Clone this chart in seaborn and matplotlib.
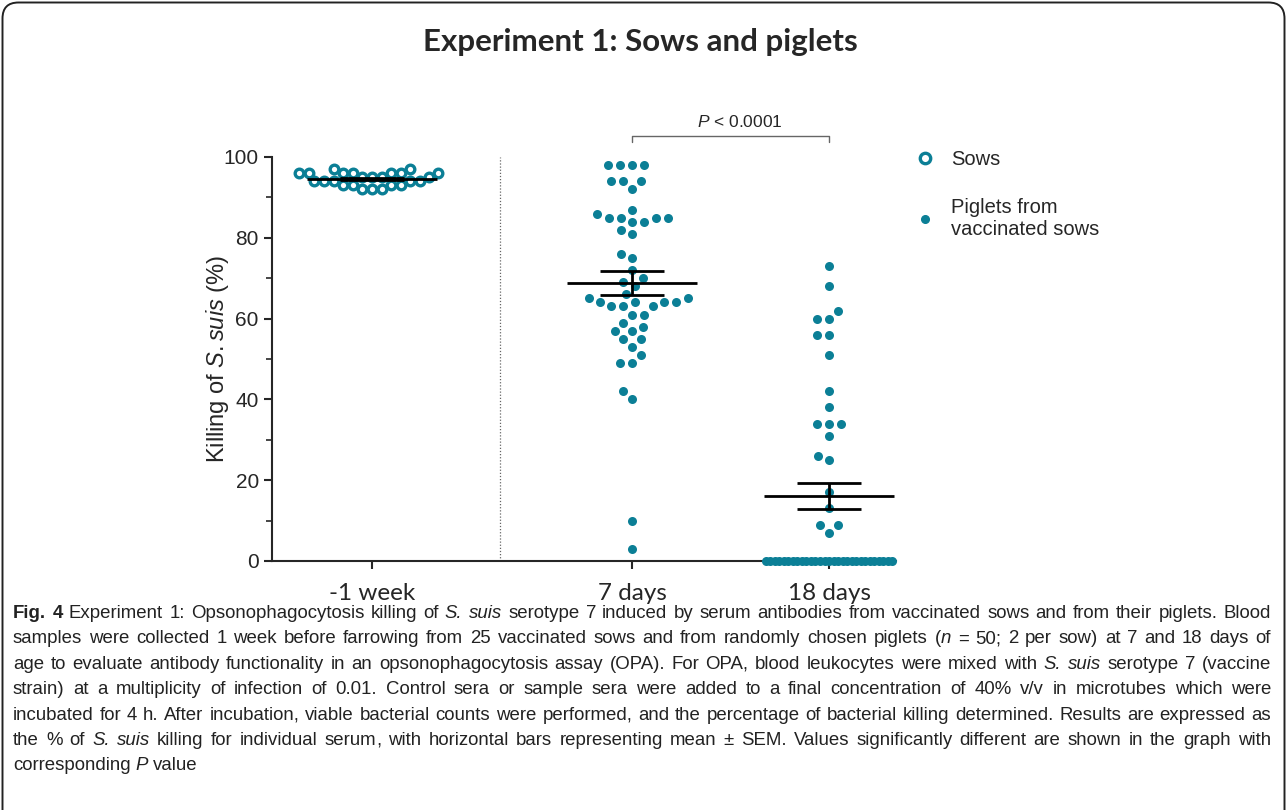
import re
import numpy as np
import matplotlib
matplotlib.use("Agg")
import matplotlib.pyplot as plt
import seaborn as sns
from matplotlib.lines import Line2D
from matplotlib.patches import FancyBboxPatch
from matplotlib.transforms import IdentityTransform
from matplotlib import font_manager

# ---------------- data ----------------
group_labels = ["-1 week", "7 days", "18 days"]
sows_minus1wk = [97, 97, 96, 96, 96, 96, 96, 96, 96, 95, 95, 95, 95,
                 94, 94, 94, 94, 94, 93, 93, 93, 93, 92, 92, 92]
piglets_7d = [98, 98, 98, 98, 94, 94, 94, 92, 87, 86, 85, 85, 85, 85, 84, 84,
              82, 81, 76, 75, 72, 70, 69, 68, 66, 65, 65, 64, 64, 64, 64,
              63, 63, 63, 61, 61, 59, 58, 57, 57, 55, 55, 53, 51, 49, 49,
              42, 40, 10, 3]
piglets_18d = [73, 68, 62, 60, 60, 56, 56, 51, 42, 38, 34, 34, 34, 31, 26, 25,
               17, 13, 9, 9, 7,
               0, 0, 0, 0, 0, 0, 0, 0, 0, 0, 0, 0, 0, 0, 0,
               0, 0, 0, 0, 0, 0, 0, 0, 0, 0, 0, 0, 0, 0]
legend_labels = ["Sows", "Piglets from\nvaccinated sows"]
y_ticks = [0, 20, 40, 60, 80, 100]
title_text = "Experiment 1: Sows and piglets"
ylabel_text = r"Killing of $\mathit{S.suis}$ (%)"
pvalue_text = r"$\mathit{P}$ < 0.0001"
caption_lines = [
    "**Fig. 4** Experiment 1: Opsonophagocytosis killing of *S. suis* serotype 7 induced by serum antibodies from vaccinated sows and from their piglets. Blood",
    "samples were collected 1 week before farrowing from 25 vaccinated sows and from randomly chosen piglets (*n* = 50; 2 per sow) at 7 and 18 days of",
    "age to evaluate antibody functionality in an opsonophagocytosis assay (OPA). For OPA, blood leukocytes were mixed with *S. suis* serotype 7 (vaccine",
    "strain) at a multiplicity of infection of 0.01. Control sera or sample sera were added to a final concentration of 40% v/v in microtubes which were",
    "incubated for 4 h. After incubation, viable bacterial counts were performed, and the percentage of bacterial killing determined. Results are expressed as",
    "the % of *S. suis* killing for individual serum, with horizontal bars representing mean ± SEM. Values significantly different are shown in the graph with",
    "corresponding *P* value",
]

# ---------------- style ----------------
TEAL = "#0b7f96"
W, H = 1287, 810
sns.set_style("ticks")
plt.rcParams["font.family"] = ["Liberation Sans", "DejaVu Sans"]
plt.rcParams["mathtext.fontset"] = "custom"
plt.rcParams["mathtext.rm"] = "Liberation Sans"
plt.rcParams["mathtext.it"] = "Liberation Sans:italic"
plt.rcParams["mathtext.bf"] = "Liberation Sans:bold"

names = {f.name for f in font_manager.fontManager.ttflist}
CAP_FAMILY = "Liberation Sans Narrow" if "Liberation Sans Narrow" in names else "Liberation Sans"
CAL_FAMILY = "Lato" if "Lato" in names else "Liberation Sans"

fig = plt.figure(figsize=(W / 100, H / 100), dpi=100)
ax = fig.add_axes([272 / W, 1 - 561 / H, (896 - 272) / W, (561 - 157) / H])

# layout positions of the groups (native numeric x-scale)
xpos = [0.0, 1.32, 2.32]
ax.set_xlim(-0.508, 2.66)
ax.set_ylim(0, 100)


def swarm(values, x, layout_size, show_size):
    n0 = len(ax.collections)
    sns.swarmplot(x=np.full(len(values), x), y=values, native_scale=True,
                  orient="x", size=layout_size, color=TEAL, linewidth=0,
                  ax=ax, warn_thresh=1.0)
    coll = ax.collections[n0]
    fig.canvas.draw()
    if "draw" in coll.__dict__:
        del coll.draw  # freeze the computed swarm layout
    coll.set_sizes([show_size ** 2])
    coll.set_clip_on(False)
    coll.set_zorder(3)
    return coll


c_sow = swarm(sows_minus1wk, xpos[0], 6.8, 6.2)
c_sow.set_facecolor("white")
c_sow.set_edgecolor(TEAL)
c_sow.set_linewidth(2.4)

swarm(piglets_7d, xpos[1], 8.3, 6.5)
nz = [v for v in piglets_18d if v > 0]
zz = [v for v in piglets_18d if v == 0]
swarm(nz, xpos[2], 8.3, 6.5)
swarm(zz, xpos[2], 3.1, 6.5)

# mean +/- SEM
for vals, x in zip([sows_minus1wk, piglets_7d, piglets_18d], xpos):
    v = np.asarray(vals, float)
    m = v.mean()
    sem = v.std(ddof=1) / np.sqrt(len(v))
    ax.hlines(m, x - 0.33, x + 0.33, color="black", lw=2.0, zorder=5)
    ax.hlines([m - sem, m + sem], x - 0.163, x + 0.163, color="black", lw=2.0, zorder=5)
    ax.vlines(x, m - sem, m + sem, color="black", lw=2.0, zorder=5)

# dotted separator
ax.vlines(0.65, 0, 100, colors="#666666", linestyles=(0, (1, 1.5)), lw=0.9)

# significance bracket
ax.plot([xpos[1], xpos[1], xpos[2], xpos[2]], [103.6, 105.2, 105.2, 103.6],
        color="#666666", lw=1.0, clip_on=False)
ax.text((xpos[1] + xpos[2]) / 2 + 0.045, 106.6, pvalue_text, ha="center",
        va="bottom", fontsize=12.5, clip_on=False)

# axes
sns.despine(ax=ax)
for s in ["left", "bottom"]:
    ax.spines[s].set_linewidth(1.5)
ax.set_xticks(xpos)
ax.set_xticklabels(group_labels, fontsize=17.5, family=CAL_FAMILY)
ax.set_yticks(y_ticks)
ax.set_yticks([10, 30, 50, 70, 90], minor=True)
ax.tick_params(axis="both", which="major", length=6, width=1.5)
ax.tick_params(axis="y", which="major", labelsize=15)
ax.tick_params(axis="y", which="minor", length=4, width=1.2)
ax.tick_params(axis="x", which="major", pad=10)
ax.set_ylabel(ylabel_text, fontsize=17, labelpad=-5)
ax.set_xlabel("")

# legend
h_sow = Line2D([], [], ls="", marker="o", ms=7.5, mfc="white", mec=TEAL, mew=2.4)
h_pig = Line2D([], [], ls="", marker="o", ms=5.5, mfc=TEAL, mec=TEAL)
leg = ax.legend([h_sow, h_pig], legend_labels, loc="upper left",
                bbox_to_anchor=(915 / W, 1 - 150 / H), bbox_transform=fig.transFigure,
                frameon=False, fontsize=14.5, labelspacing=1.45, handlelength=1.0,
                handletextpad=0.8, borderaxespad=0, borderpad=0)
for t in leg.get_texts():
    t.set_linespacing(1.2)

# title
fig.text(640 / W, 1 - 42 / H, title_text, ha="center", va="center",
         fontsize=22.5, fontweight="bold", family=CAL_FAMILY)

# border
fig.patches.append(FancyBboxPatch((2.5, -40), W - 5, H + 37.5,
                                  boxstyle="round,pad=0,rounding_size=16",
                                  transform=IdentityTransform(), fill=False,
                                  lw=1.4, edgecolor="#222222"))

# caption (justified, mixed styles), drawn word by word
renderer = fig.canvas.get_renderer()


def style_kw(st):
    return dict(fontweight="bold" if st == "bold" else "normal",
                fontstyle="italic" if st == "italic" else "normal")


def measure(t, st, size):
    tx = fig.text(0, 0, t, fontsize=size, family=CAP_FAMILY, **style_kw(st))
    w = tx.get_window_extent(renderer).width
    tx.remove()
    return w


def split_short(ch, st):
    # x-height-only words ending in punctuation are split so that their
    # rendered baseline matches the other words
    m = re.fullmatch(r"([acemnorsuvwxz]+)([,.;])", ch)
    if m:
        return [(m.group(1), st), (m.group(2), st)]
    return [(ch, st)]


def parse(line):
    words = [[]]
    bold = ital = False
    for part in re.split(r"(\*\*|\*)", line):
        if part == "**":
            bold = not bold
            continue
        if part == "*":
            ital = not ital
            continue
        st = "bold" if bold else ("italic" if ital else "normal")
        chunks = part.split(" ")
        for i, ch in enumerate(chunks):
            if i > 0:
                words.append([])
            if ch:
                words[-1].extend(split_short(ch, st))
    return [w for w in words if w]


X0, LINE_W = 13, 1258
parsed = [parse(l) for l in caption_lines]
base = 10.0
sp_base = measure("a a", "normal", base) - measure("aa", "normal", base)
nat = []
for words in parsed[:-1]:
    tot = sum(measure(t, st, base) for w in words for (t, st) in w)
    nat.append(tot + sp_base * (len(words) - 1))
cap_size = base * LINE_W / max(nat) * 0.995
space_w = measure("a a", "normal", cap_size) - measure("aa", "normal", cap_size)

for i, words in enumerate(parsed):
    widths = [[measure(t, st, cap_size) for (t, st) in w] for w in words]
    tot = sum(sum(ws) for ws in widths)
    gap = (LINE_W - tot) / (len(words) - 1) if i < len(parsed) - 1 else space_w
    x = X0
    ybase = 618 + 25.4 * i
    for w, ws in zip(words, widths):
        for (t, st), wd in zip(w, ws):
            fig.text(x / W, 1 - ybase / H, t, fontsize=cap_size, family=CAP_FAMILY,
                     va="baseline", ha="left", color="#222222", **style_kw(st))
            x += wd
        x += gap

fig.savefig("out.png", dpi=100)
